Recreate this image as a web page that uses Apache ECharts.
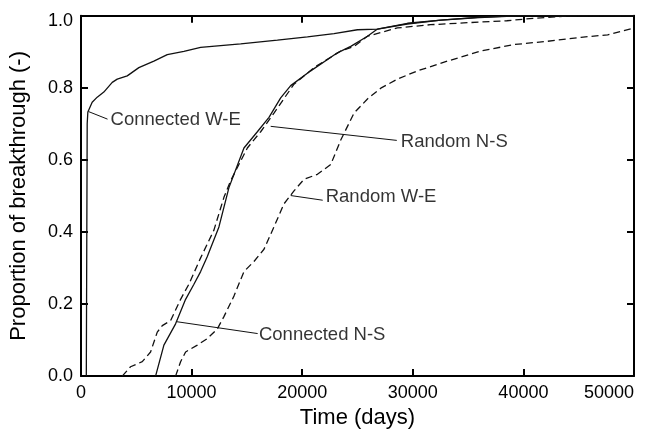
<!DOCTYPE html>
<html>
<head>
<meta charset="utf-8">
<script src="https://cdn.jsdelivr.net/npm/echarts@6/dist/echarts.min.js"></script>
<style>
html,body{margin:0;padding:0;background:#fff;}
#chart{width:645px;height:434px;}
</style>
</head>
<body>
<div id="chart"></div>
<script>
// ---- data ----
var xTicks = [0, 10000, 20000, 30000, 40000, 50000];
var yTicks = [0.0, 0.2, 0.4, 0.6, 0.8, 1.0];

var connectedWE_t = [480, 560, 620, 1010, 1466, 2063, 2824, 3276, 4181, 5231, 6589, 7801, 9304, 10815, 12625, 14435, 17756, 20471, 22878, 24996, 26806, 29500, 32535, 36000, 40000, 50000];
var connectedWE_p = [0, 0.70, 0.733, 0.760, 0.774, 0.788, 0.815, 0.824, 0.833, 0.856, 0.874, 0.892, 0.901, 0.912, 0.917, 0.922, 0.932, 0.941, 0.950, 0.961, 0.963, 0.977, 0.988, 0.995, 1.0, 1.0];

var connectedNS_t = [6742, 7495, 8552, 9457, 10210, 10815, 11421, 12471, 13376, 14733, 15946, 16996, 18054, 18960, 20770, 23185, 24390, 25900, 26806, 29521, 32535, 36155, 40000, 50000];
var connectedNS_p = [0, 0.086, 0.145, 0.213, 0.255, 0.290, 0.332, 0.414, 0.523, 0.633, 0.678, 0.718, 0.772, 0.806, 0.847, 0.897, 0.915, 0.943, 0.963, 0.979, 0.988, 0.996, 1.0, 1.0];

var randomNS_t = [3729, 4480, 5539, 6290, 6896, 7349, 8100, 9005, 9756, 10815, 12018, 12923, 13530, 15041, 16245, 17448, 19258, 21069, 23485, 24690, 25900, 28600, 31600, 34600, 38500, 41000, 44500, 50000];
var randomNS_p = [0, 0.026, 0.040, 0.067, 0.122, 0.140, 0.154, 0.213, 0.255, 0.328, 0.405, 0.496, 0.542, 0.633, 0.678, 0.730, 0.810, 0.856, 0.902, 0.915, 0.943, 0.966, 0.975, 0.980, 0.986, 0.993, 1.0, 1.0];

var randomWE_t = [8552, 9005, 9457, 10516, 11421, 12326, 12923, 13828, 14733, 15639, 16544, 17448, 18353, 19258, 20167, 21376, 22580, 23485, 24690, 25900, 27105, 28616, 30420, 33140, 36155, 39170, 42190, 45205, 47620, 50000];
var randomWE_p = [0, 0.040, 0.067, 0.086, 0.104, 0.131, 0.165, 0.222, 0.290, 0.318, 0.352, 0.414, 0.478, 0.514, 0.546, 0.560, 0.587, 0.655, 0.730, 0.769, 0.799, 0.824, 0.847, 0.874, 0.902, 0.920, 0.929, 0.940, 0.947, 0.966];

// annotation labels (text, anchor time, anchor proportion)
var labelNames = ['Connected W-E', 'Random N-S', 'Random W-E', 'Connected N-S'];
var labelT = [2670, 28915, 22127, 16091];
var labelP = [0.710, 0.651, 0.497, 0.115];
// leader lines: from point on curve to label
var leaderFromT = [679, 17150, 18960, 8643];
var leaderFromP = [0.734, 0.693, 0.501, 0.151];
var leaderToT = [2398, 28553, 21856, 15973];
var leaderToP = [0.713, 0.654, 0.488, 0.118];

// ---- build ----
function zip(a, b) { return a.map(function (v, i) { return [v, b[i]]; }); }
var FONT = '"Liberation Sans", Arial, Helvetica, sans-serif';
var INK = '#111';

var chart = echarts.init(document.getElementById('chart'), null, {renderer: 'canvas'});

function curve(name, t, p, dashed) {
  return {
    name: name, type: 'line', xAxisIndex: 0, yAxisIndex: 0,
    data: zip(t, p), symbol: 'none', smooth: false, silent: true,
    lineStyle: {color: INK, width: 1.3, type: dashed ? [7, 4] : 'solid'},
    z: 3
  };
}

var axisCommon = {
  axisLine: {show: true, onZero: false, lineStyle: {color: '#000', width: 2}},
  axisTick: {show: true, inside: true, length: 7, lineStyle: {color: '#000', width: 2}},
  splitLine: {show: false}
};

var option = {
  backgroundColor: '#fff',
  animation: false,
  textStyle: {fontFamily: FONT},
  grid: {left: 80.5, right: 11, top: 15.7, bottom: 52.7, containLabel: false},
  xAxis: [
    Object.assign({
      type: 'value', position: 'bottom', min: xTicks[0], max: xTicks[xTicks.length - 1], interval: xTicks[1] - xTicks[0],
      name: 'Time (days)', nameLocation: 'middle', nameGap: 28,
      nameTextStyle: {fontSize: 22, color: '#000', fontFamily: FONT, verticalAlign: 'top'},
      axisLabel: {color: '#000', fontSize: 18, fontFamily: FONT, margin: 8, alignMaxLabel: 'right',
        formatter: function (v) { return String(Math.round(v)); }}
    }, axisCommon),
    Object.assign({
      type: 'value', position: 'top', min: xTicks[0], max: xTicks[xTicks.length - 1], interval: xTicks[1] - xTicks[0],
      axisLabel: {show: false}
    }, axisCommon)
  ],
  yAxis: [
    Object.assign({
      type: 'value', position: 'left', min: yTicks[0], max: yTicks[yTicks.length - 1], interval: 0.2,
      name: 'Proportion of breakthrough (-)', nameLocation: 'middle', nameGap: 51, nameRotate: 90,
      nameTextStyle: {fontSize: 22, color: '#000', fontFamily: FONT},
      axisLabel: {
        color: '#000', fontSize: 18, fontFamily: FONT, margin: 8,
        formatter: function (v) { return v >= 0.999 ? '{top|' + v.toFixed(1) + '}' : v.toFixed(1); },
        rich: {top: {fontSize: 18, fontFamily: FONT, color: '#000', padding: [10, 0, 0, 0]}}
      }
    }, axisCommon),
    Object.assign({
      type: 'value', position: 'right', min: yTicks[0], max: yTicks[yTicks.length - 1], interval: 0.2,
      axisLabel: {show: false}
    }, axisCommon)
  ],
  series: [
    curve('Connected W-E', connectedWE_t, connectedWE_p, false),
    curve('Connected N-S', connectedNS_t, connectedNS_p, false),
    curve('Random N-S', randomNS_t, randomNS_p, true),
    curve('Random W-E', randomWE_t, randomWE_p, true),
    {
      type: 'lines', coordinateSystem: 'cartesian2d', xAxisIndex: 0, yAxisIndex: 0, silent: true,
      data: leaderFromT.map(function (t, i) {
        return {coords: [[t, leaderFromP[i]], [leaderToT[i], leaderToP[i]]]};
      }),
      lineStyle: {color: INK, width: 1, opacity: 1},
      z: 4
    },
    {
      type: 'scatter', xAxisIndex: 0, yAxisIndex: 0, silent: true,
      data: labelNames.map(function (n, i) { return [labelT[i], labelP[i], n]; }),
      symbolSize: 0,
      label: {
        show: true, position: 'right', distance: 0,
        formatter: function (p) { return p.data[2]; },
        color: '#000', fontSize: 18.5, fontFamily: FONT
      },
      z: 5
    }
  ]
};
chart.setOption(option);
</script>
</body>
</html>
